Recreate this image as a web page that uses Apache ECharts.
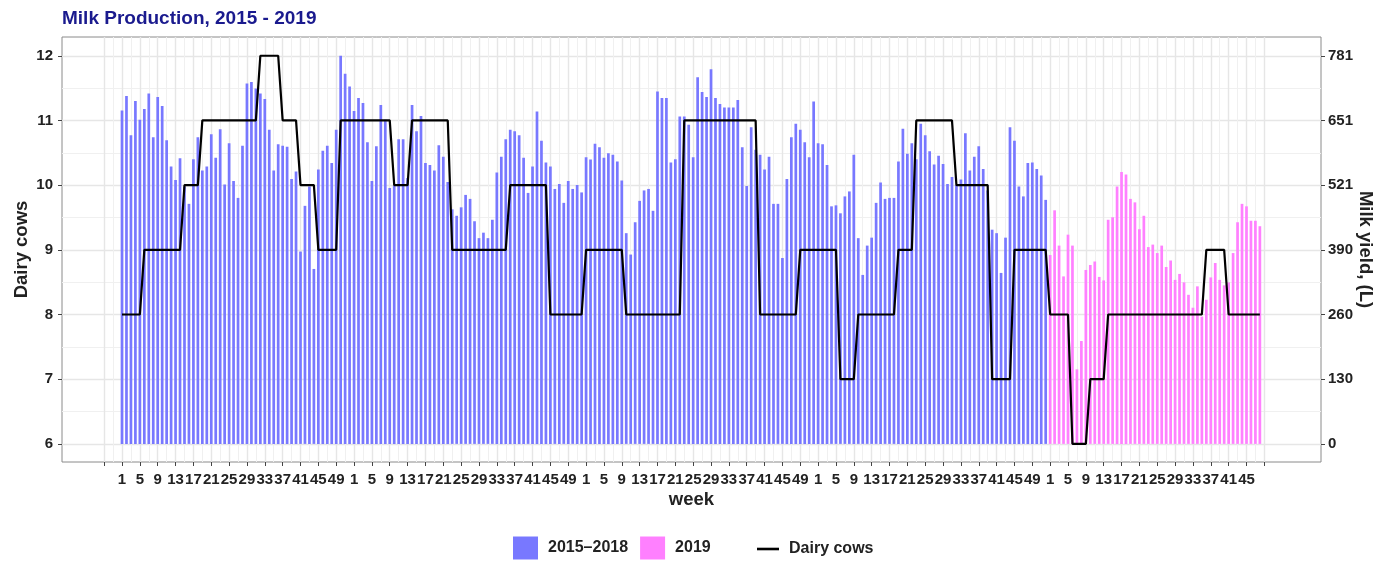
<!DOCTYPE html>
<html><head><meta charset="utf-8">
<script src="https://cdn.jsdelivr.net/npm/echarts@6/dist/echarts.min.js"></script>
<style>html,body{margin:0;padding:0;background:#fff}#c{width:1377px;height:561px}</style>
</head><body><div id="c"></div>
<script>
// Weekly milk yield (L)
const milk2015=[671,700,621,690,652,674,705,617,698,680,611,558,531,575,518,483,573,617,550,558,623,576,633,522,605,529,495,600,725,728,715,705,694,632,550,603,600,598,533,548,387,479,518,352,552,590,600,565,632,781,745,719];
const milk2016=[670,696,686,607,529,599,682,652,515,520,613,613,535,682,629,660,565,561,550,601,578,527,472,459,476,501,493,448,414,425,414,451,546,578,613,632,629,621,576,505,558,669,610,566,558,513,523,485,529,513,521,506];
const milk2017=[577,572,604,597,576,585,582,568,530,424,381,446,489,510,513,469,709,696,696,566,573,659,659,642,577,738,708,698,754,696,684,677,677,677,692,597,519,637,592,582,552,578,483,483,374,533,617,644,632,607,577,689];
const milk2018=[605,603,561,478,480,464,498,508,582,414,340,399,415,485,526,493,495,495,568,634,584,605,573,644,621,589,562,580,563,523,537,521,532,625,550,578,599,553,510,431,424,344,415,637,610,518,498,565,566,553,540,491];
const milk2019=[380,470,399,337,421,399,150,207,350,360,367,336,329,451,456,518,547,542,493,486,432,459,396,401,384,399,356,369,330,342,325,300,274,317,256,290,335,364,330,319,325,384,446,483,478,449,449,438];
// Dairy cows per week
const cows2015=[8,8,8,8,8,9,9,9,9,9,9,9,9,9,10,10,10,10,11,11,11,11,11,11,11,11,11,11,11,11,11,12,12,12,12,12,11,11,11,11,10,10,10,10,9,9,9,9,9,11,11,11];
const cows2016=[11,11,11,11,11,11,11,11,11,10,10,10,10,11,11,11,11,11,11,11,11,11,9,9,9,9,9,9,9,9,9,9,9,9,9,10,10,10,10,10,10,10,10,10,8,8,8,8,8,8,8,8];
const cows2017=[9,9,9,9,9,9,9,9,9,8,8,8,8,8,8,8,8,8,8,8,8,8,11,11,11,11,11,11,11,11,11,11,11,11,11,11,11,11,11,8,8,8,8,8,8,8,8,8,9,9,9,9];
const cows2018=[9,9,9,9,9,7,7,7,7,8,8,8,8,8,8,8,8,8,9,9,9,9,11,11,11,11,11,11,11,11,11,10,10,10,10,10,10,10,10,7,7,7,7,7,9,9,9,9,9,9,9,9];
const cows2019=[8,8,8,8,8,6,6,6,6,7,7,7,7,8,8,8,8,8,8,8,8,8,8,8,8,8,8,8,8,8,8,8,8,8,8,9,9,9,9,9,8,8,8,8,8,8,8,8];
// tick labels
const cowTicks=[6,7,8,9,10,11,12];
const yieldTickLabels=['0','130','260','390','521','651','781'];
const YIELD_MAX=781;

const FONT='"Liberation Sans", Arial, sans-serif';
const milkYears=[milk2015,milk2016,milk2017,milk2018,milk2019];
const cowYears=[cows2015,cows2016,cows2017,cows2018,cows2019];
const weekLabels=[], blue=[], pink=[], cows=[];
let idx=0;
milkYears.forEach((arr,y)=>{arr.forEach((v,k)=>{
  weekLabels.push(k+1);
  (y<4?blue:pink).push([idx,v]);
  cows.push([idx,cowYears[y][k]]);
  idx++;
});});
const labelPos=[]; weekLabels.forEach((w,i)=>{ if((w-1)%4===0) labelPos.push(i); });
const majorX=[], minorX=[];
for(let v=-4; v<=idx; v+=4){ majorX.push(v); if(v+2<idx) minorX.push(v+2); }
const minorY=[]; for(let v=6.5; v<12; v+=1) minorY.push(v);

const X_MIN=-13.45, X_MAX=268.7, Y_MIN=5.72, Y_MAX=12.29;
const toYield=c=>(c-6)*YIELD_MAX/6;
const yieldTicks=cowTicks.map(toYield);

const tickStyle={fontSize:15,fontWeight:'bold',color:'#222',fontFamily:FONT};
const nameStyle={fontSize:18.5,fontWeight:'bold',color:'#222',fontFamily:FONT};
const chart=echarts.init(document.getElementById('c'),null,{renderer:'canvas'});
chart.setOption({
  animation:false,
  backgroundColor:'#fff',
  title:{text:'Milk Production, 2015 - 2019',left:62,top:9,padding:0,textStyle:{fontSize:19,fontWeight:'bold',color:'#1a1a8e',fontFamily:FONT}},
  grid:{left:62,right:56,top:37,bottom:99,show:true,borderColor:'#8a8a8a',borderWidth:1,backgroundColor:'transparent',containLabel:false,outerBoundsMode:'none'},
  legend:[
    {data:['2015\u20132018','2019'],left:513,top:536.5,padding:0,itemWidth:25,itemHeight:23,itemGap:12,icon:'rect',
     textStyle:{fontSize:16,fontWeight:'bold',color:'#222',fontFamily:FONT,padding:[0,0,0,5]}},
    {data:['Dairy cows'],left:757,top:541,padding:0,itemWidth:22,itemHeight:2.6,icon:'rect',
     textStyle:{fontSize:16,fontWeight:'bold',color:'#222',fontFamily:FONT,padding:[0,0,0,5]}}
  ],
  xAxis:[
    {type:'value',min:X_MIN,max:X_MAX,position:'bottom',
     name:'week',nameLocation:'middle',nameGap:28,nameMoveOverlap:false,nameTextStyle:nameStyle,
     axisLine:{show:false,onZero:false},
     axisTick:{show:true,length:4,lineStyle:{color:'#444'},customValues:majorX},
     axisLabel:{customValues:labelPos,margin:10,...tickStyle,formatter:v=>{const i=Math.round(v);return weekLabels[i]!=null?String(weekLabels[i]):'';}},
     splitLine:{show:true,lineStyle:{color:'#e6e6e6',width:1.4}}},
    {type:'value',min:X_MIN,max:X_MAX,position:'top',
     axisLine:{show:false,onZero:false},axisTick:{show:false,customValues:minorX},axisLabel:{show:false},
     splitLine:{show:true,lineStyle:{color:'#f0f0f0',width:1}}}
  ],
  yAxis:[
    {type:'value',min:Y_MIN,max:Y_MAX,position:'left',
     name:'Dairy cows',nameLocation:'middle',nameGap:31,nameMoveOverlap:false,nameTextStyle:nameStyle,
     axisLine:{show:false,onZero:false},
     axisTick:{show:true,length:4,lineStyle:{color:'#444'},customValues:cowTicks},
     axisLabel:{customValues:cowTicks,margin:9,...tickStyle,formatter:v=>String(Math.round(v))},
     splitLine:{show:true,lineStyle:{color:'#e6e6e6',width:1.4}}},
    {type:'value',min:toYield(Y_MIN),max:toYield(Y_MAX),position:'right',
     name:'Milk yield, (L)',nameLocation:'middle',nameRotate:-90,nameGap:35,nameMoveOverlap:false,nameTextStyle:nameStyle,
     axisLine:{show:false,onZero:false},
     axisTick:{show:true,length:4,lineStyle:{color:'#444'},customValues:yieldTicks},
     axisLabel:{customValues:yieldTicks,margin:7,...tickStyle,formatter:v=>{const i=yieldTicks.findIndex(t=>Math.abs(t-v)<0.5);return i>=0?yieldTickLabels[i]:'';}},
     splitLine:{show:false}},
    {type:'value',min:Y_MIN,max:Y_MAX,position:'left',
     axisLine:{show:false,onZero:false},axisTick:{show:false,customValues:minorY},axisLabel:{show:false},
     splitLine:{show:true,lineStyle:{color:'#f0f0f0',width:1}}}
  ],
  series:[
    {name:'2015\u20132018',type:'bar',xAxisIndex:0,yAxisIndex:1,data:blue,barWidth:2.7,barGap:'-100%',
     itemStyle:{color:'#7878ff'}},
    {name:'2019',type:'bar',xAxisIndex:0,yAxisIndex:1,data:pink,barWidth:2.7,barGap:'-100%',
     itemStyle:{color:'#ff80ff'}},
    {name:'Dairy cows',type:'line',xAxisIndex:0,yAxisIndex:0,data:cows,symbol:'none',z:5,
     lineStyle:{color:'#000',width:2.2},itemStyle:{color:'#000'}}
  ]
});
</script></body></html>
